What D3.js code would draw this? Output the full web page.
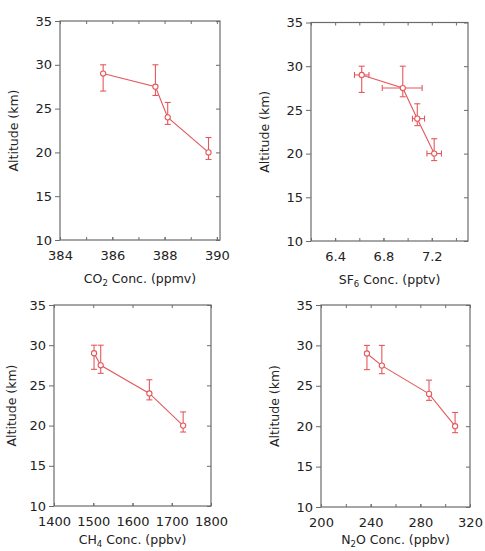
<!DOCTYPE html>
<html>
<head>
<meta charset="utf-8">
<script src="https://cdn.jsdelivr.net/npm/d3@7"></script>
<style>
body { margin: 0; background: #fff; }
text { font-family: "DejaVu Sans", sans-serif; fill: #222; }
</style>
</head>
<body>
<svg width="485" height="551"></svg>
<script>
// altitude of each sample (km) and its error range
var altitude = [29, 27.5, 24, 20];
var altLow = [27, 26.5, 23.2, 19.2];
var altHigh = [30, 30, 25.7, 21.7];

// concentrations
var co2 = [385.65, 387.65, 388.12, 389.68];
var sf6 = [6.62, 6.96, 7.08, 7.22];
var sf6Low = [6.56, 6.79, 7.04, 7.16];
var sf6High = [6.68, 7.12, 7.14, 7.28];
var ch4 = [1502, 1519, 1643, 1729];
var n2o = [237, 249, 287, 308];

var yTicks = [10, 15, 20, 25, 30, 35];
var co2Ticks = [384, 386, 388, 390];
var sf6Ticks = [6.4, 6.8, 7.2];
var ch4Ticks = [1400, 1500, 1600, 1700, 1800];
var n2oTicks = [200, 240, 280, 320];

var red = "#e4585c";
var frame = "#6b6b6b";

var svg = d3.select("svg");

var panels = [
  {left: 60, right: 220, top: 21, bottom: 240, xDomain: [384, 390.12],
   x: co2, xLow: null, xHigh: null, ticks: co2Ticks, minor: d3.range(384, 391, 1),
   title: ["CO", "2", " Conc. (ppmv)"], fmt: d3.format("d"), yt: -42, xt: 43},
  {left: 311, right: 468, top: 22.5, bottom: 241, xDomain: [6.2, 7.5],
   x: sf6, xLow: sf6Low, xHigh: sf6High, ticks: sf6Ticks, minor: [6.2, 6.4, 6.6, 6.8, 7.0, 7.2, 7.4],
   title: ["SF", "6", " Conc. (pptv)"], fmt: d3.format(".1f"), yt: -42, xt: 43},
  {left: 54, right: 211, top: 305, bottom: 506, xDomain: [1400, 1800],
   x: ch4, xLow: null, xHigh: null, ticks: ch4Ticks, minor: ch4Ticks,
   title: ["CH", "4", " Conc. (ppbv)"], fmt: d3.format("d"), yt: -38, xt: 38},
  {left: 321, right: 470, top: 305, bottom: 507, xDomain: [200, 320],
   x: n2o, xLow: null, xHigh: null, ticks: n2oTicks, minor: d3.range(200, 321, 20),
   title: ["N", "2", "O Conc. (ppbv)"], fmt: d3.format("d"), yt: -42, xt: 37}
];

panels.forEach(function(p) {
  var w = p.right - p.left;
  var h = p.bottom - p.top;
  var g = svg.append("g").attr("transform", "translate(" + p.left + "," + p.top + ")");

  var xScale = d3.scaleLinear().domain(p.xDomain).range([0, w]);
  var yScale = d3.scaleLinear().domain([10, 35]).range([h, 0]);

  // left axis, outward ticks with labels
  g.append("g").call(d3.axisLeft(yScale).tickValues(yTicks).tickSize(5).tickPadding(3).tickFormat(d3.format("d")))
    .call(styleAxis);
  // right axis, inward ticks
  g.append("g").attr("transform", "translate(" + w + ",0)")
    .call(d3.axisLeft(yScale).tickValues(yTicks).tickSize(4).tickFormat(""))
    .call(styleAxis);
  // top axis, inward ticks
  g.append("g").call(d3.axisBottom(xScale).tickValues(p.minor).tickSize(3).tickFormat(""))
    .call(styleAxis);
  // bottom axis, inward ticks + labels
  g.append("g").attr("transform", "translate(0," + h + ")")
    .call(d3.axisTop(xScale).tickValues(p.minor).tickSize(3).tickFormat(""))
    .call(styleAxis);
  g.append("g").attr("transform", "translate(0," + h + ")")
    .call(d3.axisBottom(xScale).tickValues(p.ticks).tickSizeInner(-3).tickSizeOuter(0).tickPadding(11).tickFormat(p.fmt))
    .call(styleAxis);

  g.append("rect").attr("width", w).attr("height", h)
    .attr("fill", "none").attr("stroke", frame).attr("stroke-width", 1.2);

  // titles
  g.append("text")
    .attr("transform", "translate(" + p.yt + "," + (h / 2) + ") rotate(-90)")
    .attr("text-anchor", "middle")
    .style("font-size", "12.5px")
    .text("Altitude (km)");

  var t = g.append("text")
    .attr("x", w / 2).attr("y", h + p.xt)
    .attr("text-anchor", "middle")
    .style("font-size", "12.5px");
  t.append("tspan").text(p.title[0]);
  t.append("tspan").attr("dy", 3).style("font-size", "8.5px").text(p.title[1]);
  t.append("tspan").attr("dy", -3).text(p.title[2]);

  var pts = altitude.map(function(a, i) {
    return {x: p.x[i], y: a, yl: altLow[i], yh: altHigh[i],
            xl: p.xLow ? p.xLow[i] : null, xh: p.xHigh ? p.xHigh[i] : null};
  });

  var line = d3.line().x(function(d) { return xScale(d.x); }).y(function(d) { return yScale(d.y); });
  g.append("path").datum(pts).attr("d", line)
    .attr("fill", "none").attr("stroke", red).attr("stroke-width", 1.1);

  var eb = g.selectAll(".eb").data(pts).enter().append("g").attr("class", "eb")
    .attr("stroke", red).attr("stroke-width", 1.1).attr("fill", "none");
  eb.append("line")
    .attr("x1", function(d) { return xScale(d.x); }).attr("x2", function(d) { return xScale(d.x); })
    .attr("y1", function(d) { return yScale(d.yl); }).attr("y2", function(d) { return yScale(d.yh); });
  ["yl", "yh"].forEach(function(k) {
    eb.append("line")
      .attr("x1", function(d) { return xScale(d.x) - 3; }).attr("x2", function(d) { return xScale(d.x) + 3; })
      .attr("y1", function(d) { return yScale(d[k]); }).attr("y2", function(d) { return yScale(d[k]); });
  });
  if (p.xLow) {
    eb.append("line")
      .attr("x1", function(d) { return xScale(d.xl); }).attr("x2", function(d) { return xScale(d.xh); })
      .attr("y1", function(d) { return yScale(d.y); }).attr("y2", function(d) { return yScale(d.y); });
    ["xl", "xh"].forEach(function(k) {
      eb.append("line")
        .attr("x1", function(d) { return xScale(d[k]); }).attr("x2", function(d) { return xScale(d[k]); })
        .attr("y1", function(d) { return yScale(d.y) - 3; }).attr("y2", function(d) { return yScale(d.y) + 3; });
    });
  }

  g.selectAll("circle").data(pts).enter().append("circle")
    .attr("cx", function(d) { return xScale(d.x); })
    .attr("cy", function(d) { return yScale(d.y); })
    .attr("r", 2.6)
    .attr("fill", "#fff").attr("stroke", red).attr("stroke-width", 1.1);
});

function styleAxis(sel) {
  sel.select(".domain").remove();
  sel.selectAll(".tick line").attr("stroke", frame).attr("stroke-width", 1);
  sel.selectAll(".tick text").style("font-size", "13px").style("fill", "#222")
    .style("font-family", "DejaVu Sans, sans-serif");
}
</script>
</body>
</html>
